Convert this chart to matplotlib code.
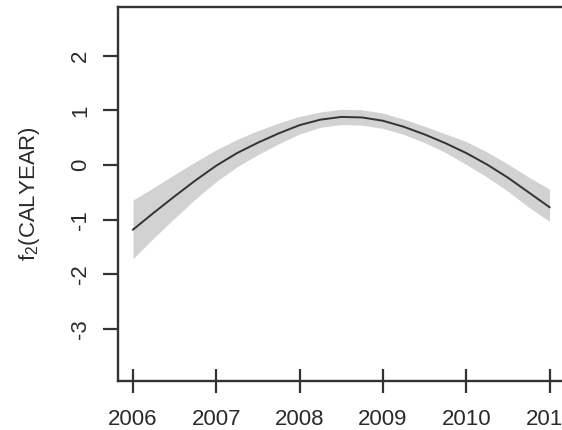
import matplotlib
matplotlib.use("Agg")
import matplotlib.pyplot as plt

# ---- data ----
years = [2006.0, 2006.25, 2006.5, 2006.75, 2007.0, 2007.25, 2007.5, 2007.75,
         2008.0, 2008.25, 2008.5, 2008.75, 2009.0, 2009.25, 2009.5, 2009.75,
         2010.0, 2010.25, 2010.5, 2010.75, 2011.0]
fit = [-1.18, -0.87, -0.57, -0.28, -0.01, 0.22, 0.41, 0.58,
       0.73, 0.83, 0.88, 0.87, 0.81, 0.70, 0.56, 0.40,
       0.22, 0.01, -0.23, -0.50, -0.77]
upper = [-0.64, -0.41, -0.17, 0.06, 0.28, 0.47, 0.63, 0.77,
         0.89, 0.97, 1.02, 1.01, 0.95, 0.84, 0.71, 0.57,
         0.43, 0.24, 0.02, -0.22, -0.44]
lower = [-1.71, -1.33, -0.97, -0.62, -0.30, -0.03, 0.19, 0.39,
         0.57, 0.69, 0.74, 0.73, 0.67, 0.56, 0.41, 0.23,
         0.01, -0.22, -0.48, -0.77, -1.03]
xticks = [2006, 2007, 2008, 2009, 2010, 2011]
yticks = [-3, -2, -1, 0, 1, 2]
ylabel = "f$_2$(CALYEAR)"

plt.rcParams['font.family'] = ['Liberation Sans', 'DejaVu Sans']
plt.rcParams['mathtext.fontset'] = 'custom'
plt.rcParams['mathtext.rm'] = 'Liberation Sans'
plt.rcParams['mathtext.it'] = 'Liberation Sans'

fig = plt.figure(figsize=(5.62, 4.30), dpi=100)
ax = fig.add_axes([0.21, 0.114, 0.8123, 0.8698])

ax.fill_between(years, lower, upper, color='#d2d2d2', linewidth=0)
ax.plot(years, fit, color='#333333', linewidth=1.4)

ax.set_xlim(2005.82, 2011.3)
ax.set_ylim(-3.947, 2.89)
ax.set_xticks(xticks)
ax.set_yticks(yticks)
ax.set_xticklabels([str(v) for v in xticks])
ax.set_yticklabels([str(v) for v in yticks], rotation=90, va='center')

for s in ['left', 'bottom', 'top', 'right']:
    ax.spines[s].set_color('#333333')
    ax.spines[s].set_linewidth(1.7)

ax.tick_params(axis='x', direction='inout', length=17, width=1.6, color='#333333',
               labelsize=16, pad=12, labelcolor='#2a2a2a')
ax.tick_params(axis='y', direction='out', length=10.5, width=1.6, color='#333333',
               labelsize=16, pad=9, labelcolor='#2a2a2a')

ax.set_ylabel(ylabel, fontsize=16, color='#2a2a2a', labelpad=20)

fig.savefig("out.png", dpi=100)
